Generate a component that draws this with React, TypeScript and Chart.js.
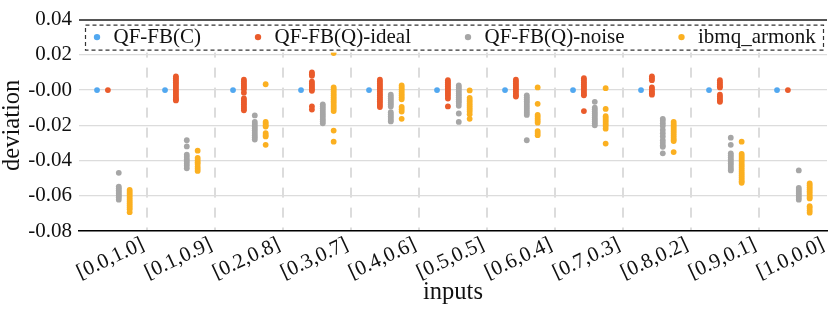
import React, { useEffect, useRef } from 'react';
import { Chart, registerables } from 'chart.js';

Chart.register(...registerables);

const FONT = "'Liberation Serif', 'Times New Roman', serif";

const categories = ['[0.0,1.0]', '[0.1,0.9]', '[0.2,0.8]', '[0.3,0.7]', '[0.4,0.6]', '[0.5,0.5]', '[0.6,0.4]', '[0.7,0.3]', '[0.8,0.2]', '[0.9,0.1]', '[1.0,0.0]'];

const seriesNames = ['QF-FB(C)', 'QF-FB(Q)-ideal', 'QF-FB(Q)-noise', 'ibmq_armonk'];
const seriesColors = ['#52a8f0', '#ea5b2b', '#a6a6a6', '#fbb021'];

const yTickValues = [-0.08, -0.06, -0.04, -0.02, 0, 0.02, 0.04];
const yTickLabels = ['-0.08', '-0.06', '-0.04', '-0.02', '-0.00', '0.02', '0.04'];

// QF-FB(C)
const classical = [[0], [0], [0], [0], [0], [0], [0], [0], [0], [0], [0]];

// QF-FB(Q)-ideal
const ideal = [
  [0],
  [0.0078, 0.0067, 0.0056, 0.0045, 0.0034, 0.0023, 0.0012, 0.0001, -0.001, -0.0021, -0.0032, -0.0043, -0.0052, -0.0059],
  [0.0059, 0.0048, 0.0037, 0.0026, 0.0015, 0.0004, -0.0015, -0.0048, -0.0059, -0.007, -0.0081, -0.0093, -0.0104, -0.0115],
  [0.01, 0.009, 0.0081, 0.0048, 0.0037, 0.0026, 0.0015, 0.0004, -0.0004, -0.0093, -0.0111],
  [0.0059, 0.0048, 0.0037, 0.0026, 0.0015, 0.0004, -0.0007, -0.0019, -0.003, -0.0041, -0.0052, -0.0063, -0.0074, -0.0085, -0.0096],
  [0.0056, 0.0045, 0.0033, 0.0022, 0.0011, 0, -0.0011, -0.0022, -0.0033, -0.0048, -0.0093],
  [0.0059, 0.0048, 0.0037, 0.0026, 0.0015, 0.0004, -0.0007, -0.0019, -0.003, -0.0037],
  [0.0067, 0.0056, 0.0044, 0.0033, 0.0022, 0.0011, 0, -0.0011, -0.0022, -0.003, -0.0119],
  [0.0078, 0.0067, 0.0056, 0.0015, 0.0004, -0.0007, -0.0018, -0.0026],
  [0.0056, 0.0044, 0.0033, 0.0022, 0.0015, -0.0026, -0.0037, -0.0048, -0.0059, -0.0067],
  [0],
];

// QF-FB(Q)-noise
const noise = [
  [-0.047, -0.0548, -0.0558, -0.0568, -0.0578, -0.0588, -0.0598, -0.0608, -0.0622],
  [-0.0285, -0.032, -0.0367, -0.038, -0.0393, -0.0405, -0.0418, -0.043, -0.0444],
  [-0.0144, -0.0181, -0.0193, -0.0205, -0.0218, -0.023, -0.0243, -0.0256, -0.0268, -0.0281],
  [-0.0081, -0.0093, -0.0105, -0.0117, -0.013, -0.0141, -0.0153, -0.0165, -0.0177, -0.0189],
  [-0.0026, -0.0037, -0.0048, -0.0059, -0.007, -0.0081, -0.0093, -0.0126, -0.0137, -0.0148, -0.0159, -0.017, -0.0178],
  [0.0026, 0.0015, 0.0004, -0.0007, -0.0019, -0.003, -0.0041, -0.0052, -0.0063, -0.0074, -0.0089, -0.0133, -0.0181],
  [-0.003, -0.0041, -0.0052, -0.0063, -0.0074, -0.0085, -0.0096, -0.0107, -0.0119, -0.013, -0.0141, -0.0285],
  [-0.0067, -0.01, -0.0111, -0.0122, -0.0133, -0.0144, -0.0156, -0.0167, -0.0178, -0.0189, -0.02],
  [-0.0163, -0.0174, -0.0189, -0.0204, -0.0226, -0.0245, -0.0263, -0.0285, -0.03, -0.0315, -0.0322, -0.0359],
  [-0.027, -0.0311, -0.0359, -0.037, -0.0381, -0.0393, -0.0404, -0.0415, -0.0426, -0.0437, -0.0448, -0.0456],
  [-0.0456, -0.0556, -0.0567, -0.0578, -0.0589, -0.06, -0.0611, -0.0622],
];

// ibmq_armonk
const armonk = [
  [-0.0567, -0.0578, -0.0589, -0.06, -0.0611, -0.0622, -0.0633, -0.0644, -0.0655, -0.0666, -0.0677, -0.0693],
  [-0.0344, -0.0385, -0.0398, -0.041, -0.042, -0.0435, -0.0447, -0.0459],
  [0.0033, -0.0181, -0.019, -0.02, -0.0207, -0.0244, -0.0255, -0.0263, -0.0311],
  [0.021, 0.0015, 0.0004, -0.0007, -0.0019, -0.003, -0.0041, -0.0052, -0.0063, -0.0074, -0.0085, -0.0096, -0.0107, -0.0119, -0.023, -0.0293],
  [0.0026, 0.0015, 0.0004, -0.0007, -0.0019, -0.003, -0.0041, -0.0052, -0.0096, -0.0109, -0.0122, -0.0163],
  [-0.0002, -0.0044, -0.0056, -0.0067, -0.0078, -0.0089, -0.01, -0.0111, -0.0122, -0.0137, -0.0163],
  [0.0015, -0.0078, -0.0141, -0.0152, -0.0163, -0.0174, -0.0185, -0.0233, -0.0244, -0.0256],
  [0.0011, -0.0107, -0.0148, -0.0159, -0.017, -0.0181, -0.0193, -0.0204, -0.0219, -0.0304],
  [-0.0181, -0.0193, -0.0204, -0.0215, -0.0226, -0.0237, -0.0248, -0.0259, -0.027, -0.0281, -0.0289, -0.0352],
  [-0.0293, -0.0363, -0.0374, -0.0385, -0.0396, -0.0407, -0.0419, -0.043, -0.0441, -0.0452, -0.0463, -0.0474, -0.0485, -0.0496, -0.0507, -0.0518, -0.0526],
  [-0.053, -0.0541, -0.0552, -0.0563, -0.0574, -0.0585, -0.0596, -0.0607, -0.0615, -0.0659, -0.067, -0.0683, -0.0696],
];

const seriesValues = [classical, ideal, noise, armonk];
// horizontal offset of each series inside its category slot (in category units)
const seriesOffsets = [-0.235, -0.075, 0.085, 0.245];

const overlayLegend = {
  id: 'overlayLegend',
  afterInit(chart: any) {
    const legend = chart.legend;
    if (!legend || legend._patched) return;
    const origFit = legend.fit;
    legend.fit = function () {
      this.maxWidth = 4000;
      origFit.call(this);
      this._fullHeight = this.height;
      this.height = 0;
    };
    legend._patched = true;
  },
  afterUpdate(chart: any) {
    const legend = chart.legend;
    const a = chart.chartArea;
    if (!legend || !a) return;
    const pad = legend.options.labels.padding;
    const fs = legend.options.labels.font.size;
    legend.left = a.left + 12 - pad;
    legend.width = 4000;
    legend.right = legend.left + 4000;
    legend.top = a.top + 17.5 - fs / 2 - pad;
    legend.height = legend._fullHeight;
    legend.bottom = legend.top + legend._fullHeight;
    legend.adjustHitBoxes();
  },
  afterDatasetsDraw(chart: any) {
    const { ctx, chartArea: a, legend } = chart;
    const x1 = a.left + 6;
    const x2 = a.right - 4;
    const y1 = a.top + 5;
    const y2 = a.top + 30;
    ctx.save();
    ctx.fillStyle = '#ffffff';
    ctx.fillRect(x1, y1, x2 - x1, y2 - y1 + 3);
    ctx.setLineDash([4, 3]);
    ctx.lineWidth = 1.2;
    ctx.strokeStyle = '#333333';
    ctx.strokeRect(x1 + 0.5, y1 + 0.5, x2 - x1, y2 - y1);
    ctx.restore();
    legend.draw();
  },
};

export default function App() {
  const canvasRef = useRef<HTMLCanvasElement>(null);

  useEffect(() => {
    const datasets = seriesNames.map((name, s) => ({
      label: name,
      data: seriesValues[s].flatMap((vals, i) => vals.map((v) => ({ x: i + seriesOffsets[s], y: v }))),
      backgroundColor: seriesColors[s],
      borderColor: seriesColors[s],
      borderWidth: 0,
      pointRadius: 2.9,
      pointHoverRadius: 2.9,
      pointStyle: 'circle',
    }));

    const chart = new Chart(canvasRef.current as HTMLCanvasElement, {
      type: 'scatter',
      data: { datasets },
      plugins: [overlayLegend],
      options: {
        animation: false,
        responsive: true,
        maintainAspectRatio: false,
        events: [],
        layout: { padding: { top: 14, right: 4, left: 0, bottom: 0 } },
        plugins: {
          tooltip: { enabled: false },
          legend: {
            display: true,
            position: 'top',
            align: 'start',
            labels: {
              usePointStyle: true,
              boxWidth: 12,
              boxHeight: 4.5,
              padding: 51,
              color: '#111111',
              font: { family: FONT, size: 21 },
            },
          },
        },
        scales: {
          x: {
            type: 'linear',
            min: -0.5,
            max: 10.5,
            afterBuildTicks: (axis: any) => {
              axis.ticks = categories.map((_, i) => ({ value: i }));
            },
            afterFit: (axis: any) => {
              axis.height = 80;
            },
            ticks: {
              autoSkip: false,
              minRotation: 25,
              maxRotation: 25,
              labelOffset: 30,
              padding: 3,
              color: '#111111',
              font: { family: FONT, size: 21, lineHeight: 1 },
              callback: (value: any) => categories[value] ?? '',
            },
            grid: {
              offset: true,
              drawTicks: false,
              lineWidth: 2,
              color: (c: any) => (typeof c.index !== 'number' || c.index === 0 ? 'rgba(0,0,0,0)' : '#dcdcdc'),
            },
            border: { display: true, color: '#000000', width: 1.5, dash: [10, 10], dashOffset: 12 },
            title: {
              display: true,
              text: 'inputs',
              color: '#111111',
              font: { family: FONT, size: 24.5, lineHeight: 1 },
              padding: { top: 0, bottom: 6 },
            },
          },
          y: {
            min: -0.08,
            max: 0.04,
            afterBuildTicks: (axis: any) => {
              axis.ticks = yTickValues.map((v) => ({ value: v }));
            },
            afterFit: (axis: any) => {
              axis.width = 79;
            },
            ticks: {
              padding: 7,
              color: '#111111',
              font: { family: FONT, size: 21 },
              callback: (_v: any, index: number) => yTickLabels[index],
            },
            grid: {
              drawTicks: false,
              color: (c: any) => (c.tick && c.tick.value > 0.039 ? '#555555' : '#dcdcdc'),
              lineWidth: (c: any) => (c.tick && c.tick.value > 0.039 ? 2 : 1.3),
            },
            border: { display: false },
            title: {
              display: true,
              text: 'deviation',
              color: '#111111',
              font: { family: FONT, size: 24.5, lineHeight: 1 },
              padding: { top: 0, bottom: 0 },
            },
          },
        },
      },
    } as any);

    return () => chart.destroy();
  }, []);

  return (
    <div style={{ position: 'fixed', left: 0, top: 0, width: 831, height: 311, background: '#ffffff' }}>
      <canvas ref={canvasRef} />
    </div>
  );
}
